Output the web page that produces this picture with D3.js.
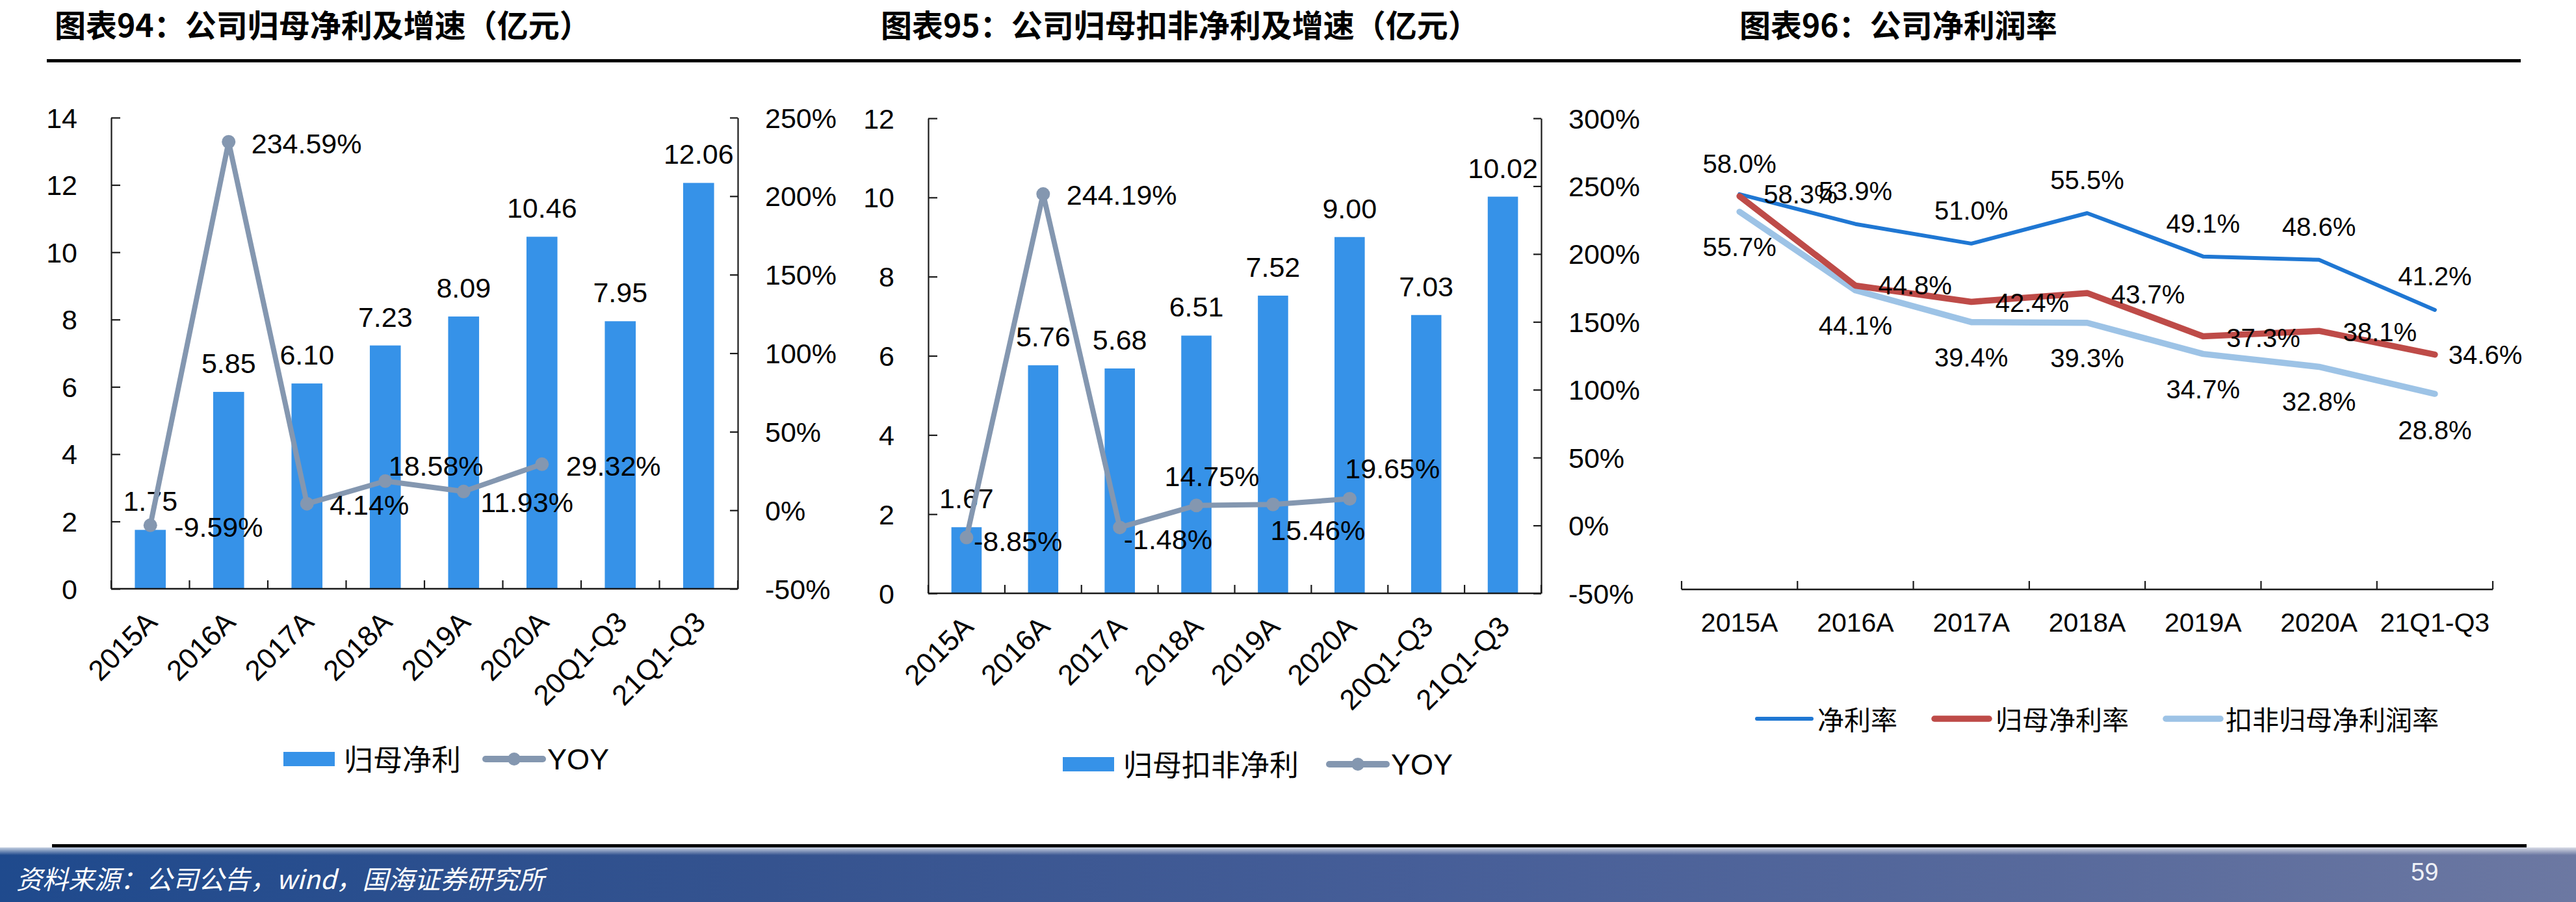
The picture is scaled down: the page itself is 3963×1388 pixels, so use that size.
<!DOCTYPE html>
<html>
<head>
<meta charset="utf-8">
<script src="https://cdn.jsdelivr.net/npm/d3@7"></script>
<style>
  html, body { margin: 0; padding: 0; background: #fff; }
  svg { display: block; }
</style>
</head>
<body>
<svg id="chart" width="3963" height="1388"></svg>
<script>
// ---------------- DATA ----------------
const comboCategories = ["2015A", "2016A", "2017A", "2018A", "2019A", "2020A", "20Q1-Q3", "21Q1-Q3"];
const parentProfit = [1.75, 5.85, 6.10, 7.23, 8.09, 10.46, 7.95, 12.06];
const parentProfitYoy = [-9.59, 234.59, 4.14, 18.58, 11.93, 29.32, null, null];
const deductProfit = [1.67, 5.76, 5.68, 6.51, 7.52, 9.00, 7.03, 10.02];
const deductProfitYoy = [-8.85, 244.19, -1.48, 14.75, 15.46, 19.65, null, null];

const leftTicks1 = [0, 2, 4, 6, 8, 10, 12, 14];
const rightTicks1 = [-50, 0, 50, 100, 150, 200, 250];
const leftTicks2 = [0, 2, 4, 6, 8, 10, 12];
const rightTicks2 = [-50, 0, 50, 100, 150, 200, 250, 300];

const marginCategories = ["2015A", "2016A", "2017A", "2018A", "2019A", "2020A", "21Q1-Q3"];
const netMargin = [58.3, 53.9, 51.0, 55.5, 49.1, 48.6, 41.2];
const parentNetMargin = [58.0, 44.8, 42.4, 43.7, 37.3, 38.1, 34.6];
const deductParentMargin = [55.7, 44.1, 39.4, 39.3, 34.7, 32.8, 28.8];
const marginDomain = [0, 70];

const titles = ["图表94：公司归母净利及增速（亿元）", "图表95：公司归母扣非净利及增速（亿元）", "图表96：公司净利润率"];
const legend1 = ["归母净利", "YOY"];
const legend2 = ["归母扣非净利", "YOY"];
const legend3 = ["净利率", "归母净利率", "扣非归母净利润率"];
const sourceText = "资料来源：公司公告，wind，国海证券研究所";
const pageNumber = "59";

// ---------------- STYLE / LAYOUT ----------------
const NUM = "'Liberation Sans', Arial, sans-serif";
const CJK = "'Noto Sans CJK SC', 'Noto Sans', sans-serif";
const BAR_COLOR = "#3692e8";
const YOY_COLOR = "#8497b0";
const AXIS_COLOR = "#1a1a1a";

// label placement for YOY labels: [dx, dy] relative to point (start anchor, dy = vertical centre offset)
const yoyLabelPos1 = [[37, 3], [35, 3], [35, 2], [5, -23], [26, 17], [37, 3]];
const yoyLabelPos2 = [[11, 6], [36, 1], [6, 18], [-49, -45], [-4, 40], [-7, -47]];
// margin chart label placement: [anchor, dx, dy]
const netLabelPos = [["start", 37, 0], ["middle", 0, -51], ["middle", 0, -51], ["middle", 0, -51], ["middle", 0, -51], ["middle", 0, -51], ["middle", 0, -52]];
const parentLabelPos = [["middle", 0, -50], ["start", 35, 0], ["start", 37, 2], ["start", 37, 2], ["start", 36, 2], ["start", 37, 2], ["start", 21, 0]];
const deductLabelPos = [["middle", 0, 54], ["middle", 0, 54], ["middle", 0, 54], ["middle", 0, 54], ["middle", 0, 54], ["middle", 0, 54], ["middle", 0, 56]];

const svg = d3.select("#chart");
svg.append("rect").attr("width", 3963).attr("height", 1388).attr("fill", "#fff");

// ---------------- HEADER ----------------
const titleX = [84, 1355, 2676];
titles.forEach((t, i) => {
  svg.append("text").attr("x", titleX[i]).attr("y", 57)
    .attr("font-family", CJK).attr("font-weight", 700).attr("font-size", 48)
    .attr("fill", "#000").text(t);
});
svg.append("rect").attr("x", 72).attr("y", 91).attr("width", 3878 - 72).attr("height", 5).attr("fill", "#000");

// ---------------- COMBO CHART ----------------
function drawCombo(o) {
  const g = svg.append("g");
  const x = d3.scaleBand().domain(o.cats).range([o.x0, o.x1]);
  const yL = d3.scaleLinear().domain([o.leftTicks[0], o.leftTicks[o.leftTicks.length - 1]]).range([o.yB, o.yT]);
  const yR = d3.scaleLinear().domain([o.rightTicks[0], o.rightTicks[o.rightTicks.length - 1]]).range([o.yB, o.yT]);
  const cx = c => x(c) + x.bandwidth() / 2;
  const bw = x.bandwidth() * 0.395;

  // bars
  g.selectAll("rect.bar").data(o.cats).join("rect").attr("class", "bar")
    .attr("x", (c) => cx(c) - bw / 2)
    .attr("y", (c, i) => yL(o.bars[i]))
    .attr("width", bw)
    .attr("height", (c, i) => yL(0) - yL(o.bars[i]))
    .attr("fill", BAR_COLOR);

  // left axis
  const la = g.append("g").attr("transform", `translate(${o.x0},0)`)
    .call(d3.axisLeft(yL).tickValues(o.leftTicks).tickSizeInner(-14).tickSizeOuter(0).tickPadding(52).tickFormat(d3.format("d")));
  // right axis
  const ra = g.append("g").attr("transform", `translate(${o.x1},0)`)
    .call(d3.axisRight(yR).tickValues(o.rightTicks).tickSizeInner(-12).tickSizeOuter(0).tickPadding(42).tickFormat(d => d + "%"));
  [la, ra].forEach(a => {
    a.attr("font-family", NUM).attr("font-size", 43);
    a.selectAll("path.domain").attr("stroke", AXIS_COLOR).attr("stroke-width", 2.2);
    a.selectAll(".tick line").attr("stroke", AXIS_COLOR).attr("stroke-width", 2.2);
    a.selectAll(".tick text").attr("fill", "#000").attr("dy", "0.35em");
  });

  // bottom axis with boundary ticks
  g.append("line").attr("x1", o.x0).attr("x2", o.x1).attr("y1", o.yB).attr("y2", o.yB)
    .attr("stroke", AXIS_COLOR).attr("stroke-width", 2.4);
  const bounds = d3.range(o.cats.length + 1).map(i => o.x0 + i * x.step());
  g.selectAll("line.bt").data(bounds).join("line").attr("class", "bt")
    .attr("x1", d => d).attr("x2", d => d).attr("y1", o.yB).attr("y2", o.yB - 13)
    .attr("stroke", AXIS_COLOR).attr("stroke-width", 2.2);

  // x labels rotated
  g.selectAll("text.xl").data(o.cats).join("text").attr("class", "xl")
    .attr("transform", c => `translate(${cx(c) + 13},${o.yB + 54}) rotate(-45)`)
    .attr("text-anchor", "end").attr("font-family", NUM).attr("font-size", 44).attr("fill", "#000")
    .text(c => c);

  // bar labels
  g.selectAll("text.bl").data(o.cats).join("text").attr("class", "bl")
    .attr("x", c => cx(c)).attr("y", (c, i) => yL(o.bars[i]) - 29)
    .attr("text-anchor", "middle").attr("font-family", NUM).attr("font-size", 43).attr("fill", "#000")
    .text((c, i) => o.bars[i].toFixed(2));

  // YOY line
  const pts = o.cats.map((c, i) => ({ c, v: o.yoy[i], i })).filter(d => d.v != null);
  g.append("path").datum(pts)
    .attr("d", d3.line().x(d => cx(d.c)).y(d => yR(d.v)))
    .attr("fill", "none").attr("stroke", YOY_COLOR).attr("stroke-width", 8)
    .attr("stroke-linejoin", "round").attr("stroke-linecap", "round");
  g.selectAll("circle.m").data(pts).join("circle").attr("class", "m")
    .attr("cx", d => cx(d.c)).attr("cy", d => yR(d.v)).attr("r", 10.5).attr("fill", YOY_COLOR);
  g.selectAll("text.yl").data(pts).join("text").attr("class", "yl")
    .attr("x", d => cx(d.c) + o.yoyPos[d.i][0])
    .attr("y", d => yR(d.v) + o.yoyPos[d.i][1] + 15)
    .attr("font-family", NUM).attr("font-size", 43).attr("fill", "#000")
    .text(d => d.v.toFixed(2) + "%");

  // legend
  const L = o.legend;
  g.append("rect").attr("x", L.x).attr("y", L.y - 11).attr("width", 79).attr("height", 22).attr("fill", BAR_COLOR);
  g.append("text").attr("x", L.x + 93).attr("y", L.y + 18).attr("font-family", CJK).attr("font-size", 45).attr("fill", "#000").text(o.legendText[0]);
  g.append("line").attr("x1", L.lineX).attr("x2", L.lineX + 88).attr("y1", L.y).attr("y2", L.y)
    .attr("stroke", YOY_COLOR).attr("stroke-width", 10).attr("stroke-linecap", "round");
  g.append("circle").attr("cx", L.lineX + 44).attr("cy", L.y).attr("r", 10).attr("fill", YOY_COLOR);
  g.append("text").attr("x", L.lineX + 95).attr("y", L.y + 16).attr("font-family", NUM).attr("font-size", 45).attr("fill", "#000").text(o.legendText[1]);
}

drawCombo({
  cats: comboCategories, bars: parentProfit, yoy: parentProfitYoy,
  leftTicks: leftTicks1, rightTicks: rightTicks1,
  x0: 171, x1: 1135, yT: 181, yB: 906, yoyPos: yoyLabelPos1,
  legend: { x: 436, y: 1168, lineX: 747 }, legendText: legend1
});
drawCombo({
  cats: comboCategories, bars: deductProfit, yoy: deductProfitYoy,
  leftTicks: leftTicks2, rightTicks: rightTicks2,
  x0: 1428, x1: 2371, yT: 182, yB: 913, yoyPos: yoyLabelPos2,
  legend: { x: 1635, y: 1176, lineX: 2045 }, legendText: legend2
});

// ---------------- MARGIN LINE CHART ----------------
(function () {
  const g = svg.append("g");
  const x0 = 2587, x1 = 3835, yB = 906, yT = 177;
  const x = d3.scaleBand().domain(marginCategories).range([x0, x1]);
  const y = d3.scaleLinear().domain(marginDomain).range([yB, yT]);
  const cx = c => x(c) + x.bandwidth() / 2;

  g.append("line").attr("x1", x0).attr("x2", x1).attr("y1", yB + 1).attr("y2", yB + 1)
    .attr("stroke", AXIS_COLOR).attr("stroke-width", 2.4);
  const bounds = d3.range(marginCategories.length + 1).map(i => x0 + i * x.step());
  g.selectAll("line.bt").data(bounds).join("line").attr("class", "bt")
    .attr("x1", d => d).attr("x2", d => d).attr("y1", yB + 1).attr("y2", yB - 12)
    .attr("stroke", AXIS_COLOR).attr("stroke-width", 2.2);
  g.selectAll("text.xl").data(marginCategories).join("text").attr("class", "xl")
    .attr("x", c => cx(c)).attr("y", 972).attr("text-anchor", "middle")
    .attr("font-family", NUM).attr("font-size", 41).attr("fill", "#000").text(c => c);

  const series = [
    { vals: netMargin, color: "#1f77d3", w: 6, pos: netLabelPos },
    { vals: deductParentMargin, color: "#9dc3e6", w: 9.5, pos: deductLabelPos },
    { vals: parentNetMargin, color: "#be4b48", w: 9.5, pos: parentLabelPos }
  ];
  const line = d3.line().x((v, i) => cx(marginCategories[i])).y(v => y(v));
  series.forEach(s => {
    g.append("path").datum(s.vals).attr("d", line)
      .attr("fill", "none").attr("stroke", s.color).attr("stroke-width", s.w)
      .attr("stroke-linejoin", "round").attr("stroke-linecap", "round");
  });
  series.forEach(s => {
    g.selectAll(null).data(s.vals).join("text")
      .attr("x", (v, i) => cx(marginCategories[i]) + s.pos[i][1])
      .attr("y", (v, i) => y(v) + s.pos[i][2] + 14)
      .attr("text-anchor", (v, i) => s.pos[i][0])
      .attr("font-family", NUM).attr("font-size", 40).attr("fill", "#000")
      .text(v => v.toFixed(1) + "%");
  });

  // legend
  const legY = 1106;
  const legItems = [
    { x: 2703, tx: 2796, color: "#1f77d3", w: 6 },
    { x: 2976, tx: 3070, color: "#be4b48", w: 9.5 },
    { x: 3332, tx: 3424, color: "#9dc3e6", w: 9.5 }
  ];
  legItems.forEach((it, i) => {
    g.append("line").attr("x1", it.x).attr("x2", it.x + 84).attr("y1", legY).attr("y2", legY)
      .attr("stroke", it.color).attr("stroke-width", it.w).attr("stroke-linecap", "round");
    g.append("text").attr("x", it.tx).attr("y", legY + 17).attr("font-family", CJK).attr("font-size", 41)
      .attr("fill", "#000").text(legend3[i]);
  });
})();

// ---------------- FOOTER ----------------
const defs = svg.append("defs");
const bg = defs.append("linearGradient").attr("id", "bannerGrad").attr("x1", 0).attr("x2", 1).attr("y1", 0).attr("y2", 0);
[[0, "#1f4a8d"], [0.3, "#35538f"], [0.55, "#465e98"], [0.8, "#586a9c"], [1, "#6c78a2"]]
  .forEach(([o, c]) => bg.append("stop").attr("offset", o).attr("stop-color", c));
const sg = defs.append("linearGradient").attr("id", "stripGrad").attr("x1", 0).attr("x2", 0).attr("y1", 0).attr("y2", 1);
sg.append("stop").attr("offset", 0).attr("stop-color", "#fff").attr("stop-opacity", 0.75);
sg.append("stop").attr("offset", 1).attr("stop-color", "#fff").attr("stop-opacity", 0);

svg.append("rect").attr("x", 0).attr("y", 1304).attr("width", 3963).attr("height", 84).attr("fill", "url(#bannerGrad)");
svg.append("rect").attr("x", 0).attr("y", 1304).attr("width", 3963).attr("height", 12).attr("fill", "url(#stripGrad)");
svg.append("rect").attr("x", 80).attr("y", 1299).attr("width", 3887 - 80).attr("height", 5).attr("fill", "#000");
svg.append("text").attr("x", 25).attr("y", 1368).attr("font-family", CJK).attr("font-size", 40)
  .attr("font-style", "italic").attr("fill", "#fff").text(sourceText);
svg.append("text").attr("x", 3709).attr("y", 1355).attr("font-family", NUM).attr("font-size", 38)
  .attr("fill", "#eef0f6").text(pageNumber);
</script>
</body>
</html>
